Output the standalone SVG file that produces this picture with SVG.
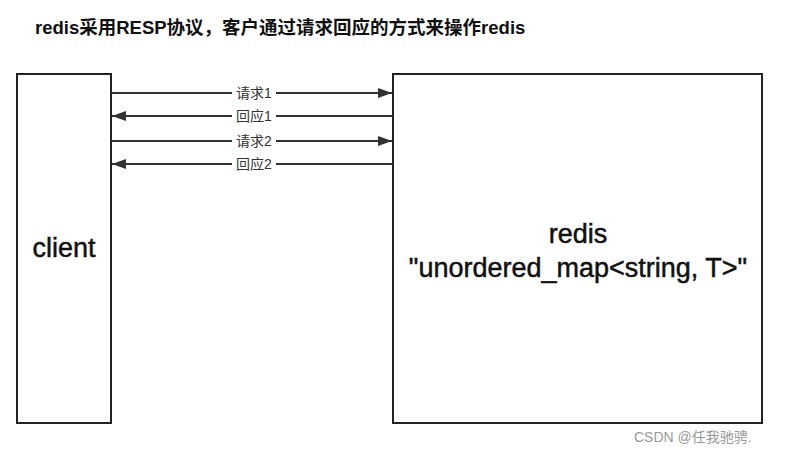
<svg xmlns="http://www.w3.org/2000/svg" width="799" height="453" viewBox="0 0 799 453">
<style>
.box{fill:#fff;stroke:#222;stroke-width:2}
.ln{stroke:#333;stroke-width:2;fill:none}
.lb{font-family:"Liberation Sans","Noto Sans CJK SC",sans-serif;font-size:14px;fill:#333;text-anchor:middle}
.big{font-family:"Liberation Sans","Noto Sans CJK SC",sans-serif;font-size:27px;fill:#111;stroke:#111;stroke-width:0.5;text-anchor:middle}
</style>
<defs><marker id="ar" markerWidth="14" markerHeight="10" refX="14" refY="5" orient="auto" markerUnits="userSpaceOnUse"><path d="M0,0L14,5L0,10z" fill="#333"/></marker></defs>
<rect width="799" height="453" fill="#fff"/>
<text x="35" y="34" font-family="Liberation Sans,'Noto Sans CJK SC',sans-serif" font-size="18.5" font-weight="bold" fill="#111">redis采用RESP协议，客户通过请求回应的方式来操作redis</text>
<g id="client"><rect class="box" x="17" y="74" width="94" height="349"/><text class="big" x="64" y="257">client</text></g>
<g id="redis"><rect class="box" x="393" y="74" width="369" height="349"/><text class="big" x="578" y="243">redis</text><text class="big" x="578" y="277">"unordered_map&lt;string, T&gt;"</text></g>
<g id="connectors">
<line class="ln" x1="111" y1="93" x2="392" y2="93" marker-end="url(#ar)"/>
<line class="ln" x1="393" y1="116" x2="112" y2="116" marker-end="url(#ar)"/>
<line class="ln" x1="111" y1="141" x2="392" y2="141" marker-end="url(#ar)"/>
<line class="ln" x1="393" y1="164" x2="112" y2="164" marker-end="url(#ar)"/>
<g fill="#fff"><rect x="232" y="85" width="44" height="16"/><rect x="232" y="108" width="44" height="16"/><rect x="232" y="133" width="44" height="16"/><rect x="232" y="156" width="44" height="16"/></g>
<text class="lb" x="254" y="98">请求1</text><text class="lb" x="254" y="121">回应1</text><text class="lb" x="254" y="146">请求2</text><text class="lb" x="254" y="169">回应2</text>
</g>
<text x="634" y="442" font-family="Liberation Sans,'Noto Sans CJK SC',sans-serif" font-size="14" fill="#999">CSDN @任我驰骋.</text>
</svg>
